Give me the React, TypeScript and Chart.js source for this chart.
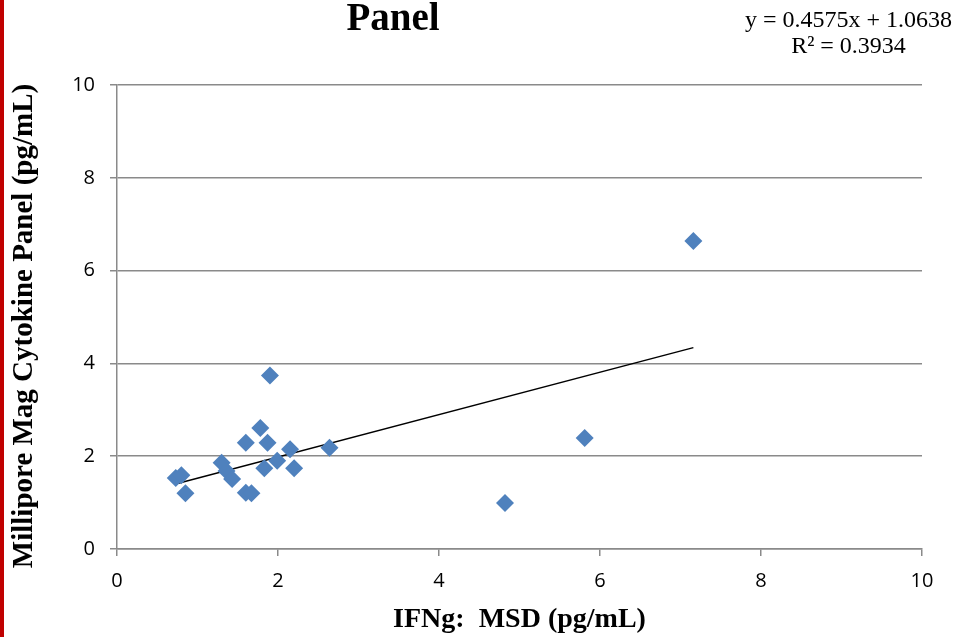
import React, { useEffect, useRef } from "react";
import { Chart, registerables } from "chart.js";

Chart.register(...registerables);

// Scatter points: IFNg MSD (x) vs Millipore (y)
const msdValues = [0.73, 0.80, 0.85, 1.30, 1.36, 1.43, 1.60, 1.67, 1.60, 1.78, 1.87, 1.90, 1.83, 1.99, 2.15, 2.20, 2.64, 4.82, 5.81, 7.16];
const milliporeValues = [1.53, 1.59, 1.20, 1.86, 1.68, 1.51, 1.21, 1.20, 2.29, 2.61, 2.29, 3.74, 1.74, 1.90, 2.15, 1.74, 2.18, 0.99, 2.39, 6.64];

// Linear trendline end points
const trendX = [0.75, 7.16];
const trendY = [1.41, 4.34];

const axisMin = 0;
const axisMax = 10;
const axisStep = 2;

const titleText = "Panel";
const equationLine1 = "y = 0.4575x + 1.0638";
const equationLine2 = "R² = 0.3934";
const xAxisTitle = "IFNg:  MSD (pg/mL)";
const yAxisTitle = "Millipore Mag Cytokine Panel (pg/mL)";

const W = 957;
const H = 637;
const AREA_LEFT = 117;
const AREA_RIGHT = 922;
const AREA_TOP = 85;
const AREA_BOTTOM = 549;

const GRID = "#8a8a8a";
const BLUE = "#4f81bd";
const SERIF = "'Liberation Serif', 'Times New Roman', serif";
const TICK_FONT = { family: "'Open Sans', 'Liberation Sans', sans-serif", size: 20 };
const TITLE_FONT = { family: SERIF, size: 28, weight: "bold" as const };

export default function App() {
  const canvasRef = useRef<HTMLCanvasElement | null>(null);

  useEffect(() => {
    const canvas = canvasRef.current;
    if (!canvas) return;
    const points = msdValues.map((x, i) => ({ x, y: milliporeValues[i] }));
    const trend = trendX.map((x, i) => ({ x, y: trendY[i] }));
    const chart = new Chart(canvas, {
      type: "scatter",
      data: {
        datasets: [
          {
            label: "Data",
            data: points,
            pointStyle: "rectRot",
            pointRadius: 9,
            pointHoverRadius: 9,
            backgroundColor: BLUE,
            borderColor: BLUE,
            borderWidth: 0,
            showLine: false,
          },
          {
            label: "Trend",
            type: "line",
            data: trend,
            borderColor: "#000000",
            borderWidth: 1.5,
            pointRadius: 0,
            fill: false,
          },
        ],
      },
      options: {
        animation: false,
        responsive: false,
        devicePixelRatio: 1,
        layout: {
          padding: { left: 0, top: AREA_TOP, right: W - AREA_RIGHT, bottom: 0 },
        },
        plugins: {
          legend: { display: false },
          tooltip: { enabled: false },
          title: { display: false },
        },
        scales: {
          x: {
            type: "linear",
            min: axisMin,
            max: axisMax,
            ticks: { stepSize: axisStep, color: "#000", font: TICK_FONT, padding: 13, maxRotation: 0 },
            grid: { drawOnChartArea: false, drawTicks: true, tickLength: 7, color: GRID, lineWidth: 1.5 },
            border: { display: true, color: GRID, width: 1.5 },
            title: { display: true, text: xAxisTitle, color: "#000", font: TITLE_FONT, padding: { top: 12, bottom: 0 } },
            afterFit: (scale: any) => {
              scale.height = H - AREA_BOTTOM;
            },
          },
          y: {
            type: "linear",
            min: axisMin,
            max: axisMax,
            ticks: { stepSize: axisStep, color: "#000", font: TICK_FONT, padding: 15 },
            grid: { drawOnChartArea: true, drawTicks: true, tickLength: 7, color: GRID, lineWidth: 1.5 },
            border: { display: true, color: GRID, width: 1.5 },
            title: { display: false },
            afterFit: (scale: any) => {
              scale.width = AREA_LEFT;
            },
          },
        },
      },
    });
    return () => chart.destroy();
  }, []);

  return (
    <div style={{ position: "fixed", left: 0, top: 0, width: W, height: H, background: "#fff", overflow: "hidden" }}>
      <canvas ref={canvasRef} width={W} height={H} style={{ position: "absolute", left: 0, top: 0, width: W, height: H }} />
      <div style={{ position: "absolute", left: 0, top: 0, width: 4, height: H, background: "#c00000" }} />
      <div
        style={{
          position: "absolute",
          left: 22,
          top: 326,
          transform: "translate(-50%, -50%) rotate(-90deg)",
          font: `bold 29px ${SERIF}`,
          lineHeight: "29px",
          color: "#000",
          whiteSpace: "nowrap",
        }}
      >
        {yAxisTitle}
      </div>
      <div
        style={{
          position: "absolute",
          left: 293,
          top: -3,
          width: 200,
          textAlign: "center",
          font: `bold 39px ${SERIF}`,
          lineHeight: "39px",
          color: "#000",
          whiteSpace: "nowrap",
        }}
      >
        {titleText}
      </div>
      <div
        style={{
          position: "absolute",
          left: 718,
          top: 6,
          width: 261,
          textAlign: "center",
          font: `24px ${SERIF}`,
          lineHeight: "26px",
          color: "#000",
          whiteSpace: "nowrap",
        }}
      >
        <div>{equationLine1}</div>
        <div>{equationLine2}</div>
      </div>
    </div>
  );
}
